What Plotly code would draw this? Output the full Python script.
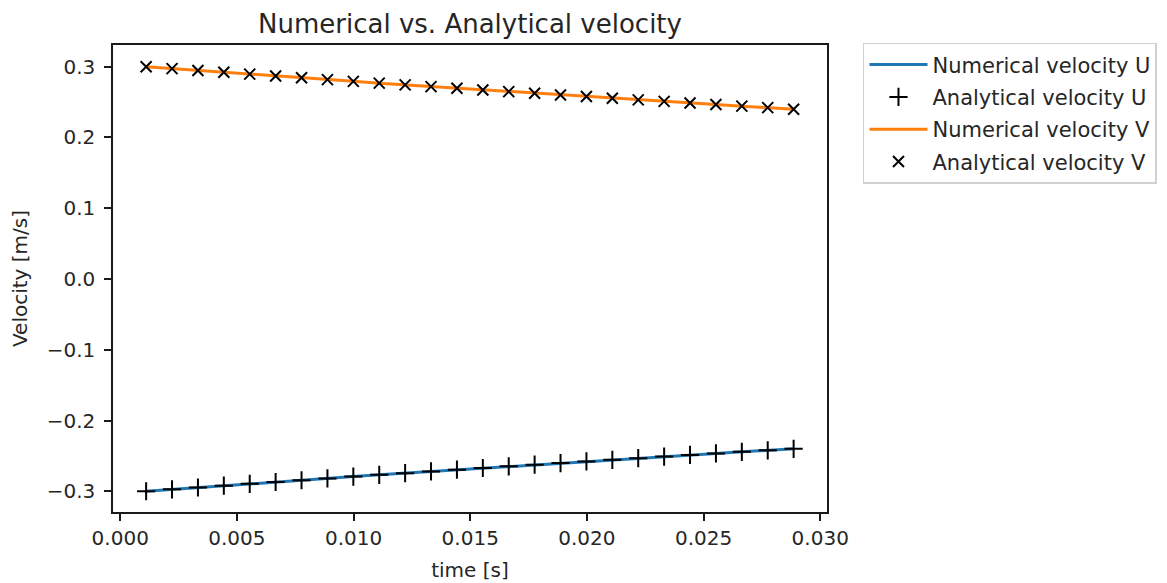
import plotly.graph_objects as go

time_s = [0.00111, 0.00222, 0.00333, 0.00444, 0.00555, 0.00666, 0.00777, 0.00888,
          0.00999, 0.01110, 0.01221, 0.01332, 0.01443, 0.01554, 0.01665, 0.01776,
          0.01887, 0.01998, 0.02109, 0.02220, 0.02331, 0.02442, 0.02553, 0.02664,
          0.02775, 0.02886]

num_v = [0.3000, 0.2973, 0.2947, 0.2921, 0.2895, 0.2869, 0.2844, 0.2818,
         0.2793, 0.2768, 0.2744, 0.2719, 0.2695, 0.2671, 0.2648, 0.2624,
         0.2601, 0.2578, 0.2555, 0.2532, 0.2510, 0.2487, 0.2465, 0.2443,
         0.2422, 0.2400]
ana_v = [0.3000, 0.2973, 0.2947, 0.2921, 0.2895, 0.2869, 0.2844, 0.2818,
         0.2793, 0.2768, 0.2744, 0.2719, 0.2695, 0.2671, 0.2648, 0.2624,
         0.2601, 0.2578, 0.2555, 0.2532, 0.2510, 0.2487, 0.2465, 0.2443,
         0.2422, 0.2400]
num_u = [-v for v in num_v]
ana_u = [-v for v in ana_v]

FONT = "DejaVu Sans"
TXT = "#262626"

fig = go.Figure()
fig.add_trace(go.Scatter(x=time_s, y=num_u, mode="lines", name="Numerical velocity U",
                         legendgroup="g1",
                         line=dict(color="#1f77b4", width=3)))
fig.add_trace(go.Scatter(x=time_s, y=ana_u, mode="markers", name="Analytical velocity U",
                         legendgroup="g2",
                         marker=dict(symbol="cross-thin", size=13, color="black",
                                     line=dict(color="black", width=2))))
fig.add_trace(go.Scatter(x=time_s, y=num_v, mode="lines", name="Numerical velocity V",
                         legendgroup="g3",
                         line=dict(color="#ff7f0e", width=3)))
fig.add_trace(go.Scatter(x=time_s, y=ana_v, mode="markers", name="Analytical velocity V",
                         legendgroup="g4",
                         marker=dict(symbol="x-thin", size=11, color="black",
                                     line=dict(color="black", width=2))))

axis_common = dict(showline=True, mirror=True, linecolor="#1a1a1a", linewidth=1.5,
                   ticks="outside", ticklen=7, tickwidth=1.5, tickcolor="#1a1a1a",
                   showgrid=False, zeroline=False, automargin=False,
                   tickfont=dict(family=FONT, size=20, color=TXT))

# the page body adds 8 px around the figure; margins compensate for it
fig.update_layout(
    width=1167, height=583,
    margin=dict(l=105, r=348, t=37, b=79),
    paper_bgcolor="white", plot_bgcolor="white",
    font=dict(family=FONT, size=20, color=TXT),
    title=dict(text="Numerical vs. Analytical velocity", x=462 / 1167,
               xanchor="center", y=1 - 16 / 583, yanchor="middle",
               font=dict(family=FONT, size=26, color=TXT)),
    xaxis=dict(range=[-0.00031, 0.03029], dtick=0.005, tick0=0, tickformat=".3f",
               title=dict(text="time [s]", standoff=14, font=dict(family=FONT, size=20)),
               **axis_common),
    yaxis=dict(range=[-0.3293, 0.3307], dtick=0.1, tick0=0, tickformat=".1f",
               ticklabelstandoff=5,
               title=dict(text="Velocity [m/s]", standoff=21, font=dict(family=FONT, size=20)),
               **axis_common),
    legend=dict(x=1.0504, y=1.0044, xanchor="left", yanchor="top",
                bordercolor="#d0d0d0", borderwidth=1.5, bgcolor="white",
                font=dict(family=FONT, size=21, color=TXT),
                itemwidth=58, tracegroupgap=2),
    showlegend=True,
)

fig.write_html("out.html")
